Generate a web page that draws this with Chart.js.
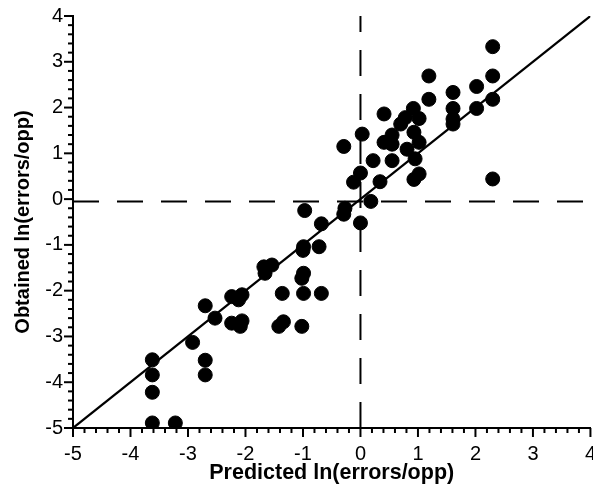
<!DOCTYPE html>
<html><head><meta charset="utf-8">
<script src="https://cdn.jsdelivr.net/npm/chart.js@4/dist/chart.umd.min.js"></script>
<style>html,body{margin:0;padding:0;background:#fff;overflow:hidden}#wrap{width:610px;height:505px;margin-top:-6px}</style>
</head><body><div id="wrap"><canvas id="c"></canvas></div>
<script>
const predicted = [-3.62,-3.62,-3.62,-3.62,-3.22,-2.92,-2.70,-2.70,-2.70,-2.53,
  -2.24,-2.06,-2.12,-2.24,-2.06,-2.09,-1.68,-1.54,-1.66,-1.36,
  -1.34,-1.42,-0.99,-1.02,-0.99,-0.68,-1.02,-0.99,-0.72,-1.00,
  -0.97,-0.68,-0.29,-0.27,0.00,0.18,-0.12,0.00,0.34,0.22,
  0.55,-0.29,0.03,0.41,0.55,0.41,0.55,0.70,0.78,0.93,
  1.02,0.81,0.95,1.02,0.93,0.92,1.02,1.19,1.19,1.61,
  1.61,1.61,1.61,2.02,2.02,2.30,2.30,2.30,2.30];
const obtained = [-3.51,-3.84,-4.22,-4.89,-4.89,-3.13,-3.52,-3.84,-2.33,-2.60,
  -2.13,-2.09,-2.20,-2.71,-2.66,-2.78,-1.48,-1.44,-1.62,-2.06,
  -2.68,-2.78,-1.62,-1.73,-2.06,-2.06,-2.78,-1.04,-1.04,-1.12,
  -0.25,-0.54,-0.33,-0.20,-0.52,-0.05,0.37,0.57,0.38,0.84,
  0.84,1.15,1.42,1.86,1.40,1.24,1.20,1.64,1.78,1.46,
  1.24,1.09,0.88,0.55,0.43,1.98,1.76,2.69,2.18,2.33,
  1.98,1.75,1.64,2.46,1.98,3.33,2.69,2.18,0.44];
const identityLine = [-5, 4];
const verticalRefX = 0;
const horizontalRefY = -0.05;
const axisMin = -5, axisMax = 4;
const xTitle = 'Predicted ln(errors/opp)';
const yTitle = 'Obtained ln(errors/opp)';

const points = predicted.map((x, i) => ({x: x, y: obtained[i]}));

const minorTicks = {
  id: 'minorTicks',
  afterDraw(chart) {
    const ctx = chart.ctx;
    const xs = chart.scales.x, ys = chart.scales.y;
    const area = chart.chartArea;
    ctx.save();
    ctx.strokeStyle = '#000000';
    ctx.lineWidth = 2;
    ctx.setLineDash([]);
    for (let i = 0; i <= (axisMax - axisMin) * 5; i++) {
      const v = axisMin + i * 0.2;
      const major = i % 5 === 0;
      const len = major ? 9 : 5;
      const px = xs.getPixelForValue(v);
      ctx.beginPath(); ctx.moveTo(px, area.bottom); ctx.lineTo(px, area.bottom + len); ctx.stroke();
      const py = ys.getPixelForValue(v);
      ctx.beginPath(); ctx.moveTo(area.left, py); ctx.lineTo(area.left - len, py); ctx.stroke();
    }
    ctx.restore();
  }
};

new Chart(document.getElementById('c'), {
  type: 'scatter',
  data: {
    datasets: [
      {
        data: points,
        backgroundColor: '#000', borderColor: '#000',
        pointRadius: 7, pointHoverRadius: 7, order: 0
      },
      {
        type: 'line',
        data: identityLine.map(v => ({x: v, y: v})),
        borderColor: '#000', borderWidth: 2.2, pointRadius: 0, fill: false, order: 1
      },
      {
        type: 'line',
        data: [{x: verticalRefX, y: axisMin}, {x: verticalRefX, y: axisMax}],
        borderColor: '#000', borderWidth: 2, borderDash: [26, 18], pointRadius: 0, fill: false, order: 2
      },
      {
        type: 'line',
        data: [{x: axisMin, y: horizontalRefY}, {x: axisMax, y: horizontalRefY}],
        borderColor: '#000', borderWidth: 2, borderDash: [26, 18], pointRadius: 0, fill: false, order: 2
      }
    ]
  },
  options: {
    responsive: true,
    maintainAspectRatio: false,
    animation: false,
    layout: {padding: {top: 8, left: 0, right: 0, bottom: 0}},
    plugins: {legend: {display: false}, tooltip: {enabled: false}},
    scales: {
      x: {
        type: 'linear', min: axisMin, max: axisMax,
        ticks: {stepSize: 1, color: '#000', font: {family: 'Liberation Sans', size: 20}, padding: 14},
        grid: {display: true, drawOnChartArea: false, drawTicks: false},
        border: {display: true, color: '#000', width: 2},
        title: {display: true, text: xTitle, color: '#000', font: {family: 'Liberation Sans', size: 21.5, weight: 'bold'}, padding: {top: 4, bottom: 13}},
        afterFit(scale) { scale.height = 71; }
      },
      y: {
        type: 'linear', min: axisMin, max: axisMax,
        ticks: {stepSize: 1, color: '#000', font: {family: 'Liberation Sans', size: 20}, padding: 10},
        grid: {display: true, drawOnChartArea: false, drawTicks: false},
        border: {display: true, color: '#000', width: 2},
        title: {display: true, text: yTitle, color: '#000', font: {family: 'Liberation Sans', size: 20, weight: 'bold'}, padding: {top: 11, bottom: 4}},
        afterFit(scale) { scale.width = 73; }
      }
    }
  },
  plugins: [minorTicks]
});
</script>
</body></html>
